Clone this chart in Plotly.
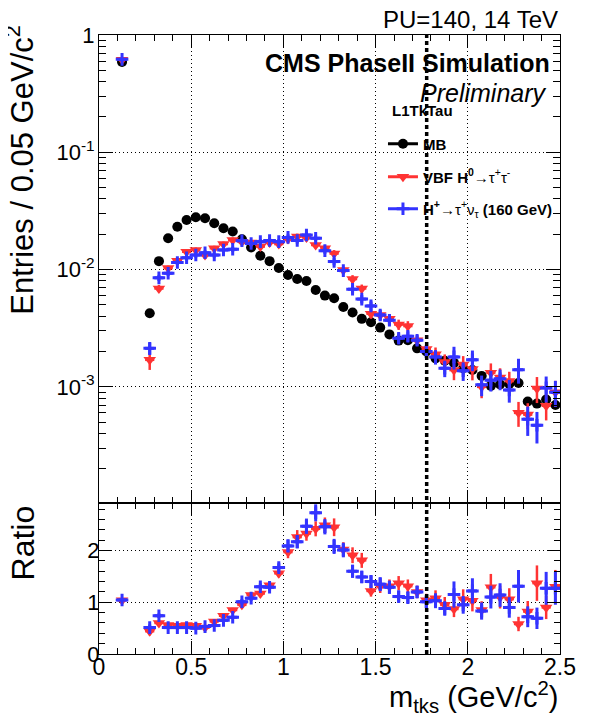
import numpy as np
import plotly.graph_objects as go
from plotly.subplots import make_subplots

# binning of the histogram (GeV/c^2)
BIN_WIDTH = 0.05
N_BINS = 50
M_TAU = 1.777

# normalised entries per bin (None = empty bin)
mb = [None, None, 0.59, None, None,
      0.00424, 0.0118, 0.0185, 0.0232, 0.0265, 0.0279, 0.0274, 0.0248, 0.0225, 0.0211,
      0.0181, 0.0154, 0.0131, 0.0118, 0.0103, 0.0090, 0.0083, 0.0080, 0.0067, 0.0060,
      0.0057, 0.0048, 0.0043, 0.0038, 0.00355, 0.0032, 0.0028, 0.00248, 0.0025, 0.00213,
      0.0020, 0.00175, 0.00167, 0.0016, 0.00144, 0.00139, 0.00124, 0.00102, 0.00105, 0.00106,
      0.00108, 0.00075, 0.00072, 0.00078, 0.0007]

vbf = [None, None, 0.615, None, None,
       0.0017, 0.0069, 0.0103, 0.0119, 0.0142, 0.0147, 0.0133, 0.0152, 0.0165, 0.0179,
       0.0173, 0.0170, 0.0157, 0.0170, 0.0165, 0.0182, 0.0191, 0.0188, 0.0162, 0.0152,
       0.0137, 0.0099, 0.0083, 0.0069, 0.0042, 0.0041, 0.0038, 0.0034, 0.0033, 0.0025,
       0.0021, 0.0019, 0.00163, 0.00139, 0.00155, 0.00142, 0.00100, 0.00132, 0.0012, 0.00112,
       0.00060, 0.00058, 0.00097, 0.00069, 0.00090]

hpm = [None, None, 0.62, None, None,
       0.00213, 0.0085, 0.0093, 0.0115, 0.0126, 0.0133, 0.0139, 0.0133, 0.0147, 0.0149,
       0.0176, 0.0167, 0.0173, 0.0177, 0.0173, 0.0188, 0.0177, 0.0197, 0.0185, 0.0145,
       0.0117, 0.0098, 0.0068, 0.0056, 0.0049, 0.0041, 0.0037, 0.0026, 0.0027, 0.0025,
       0.0020, 0.0018, 0.00144, 0.0018, 0.00137, 0.0017, 0.00104, 0.00114, 0.00117, 0.00094,
       0.0014, 0.00053, 0.00047, 0.00098, 0.00090]

# ratio to MB
ratio_vbf = [None, None, 1.04, None, None,
             0.44, 0.60, 0.56, 0.545, 0.56, 0.545, 0.51, 0.63, 0.74, 0.85,
             0.95, 1.14, 1.17, 1.33, 1.56, 1.97, 2.26, 2.33, 2.42, 2.49,
             2.45, 2.02, 1.91, 1.81, 1.22, 1.31, 1.31, 1.37, 1.31, 1.20,
             1.04, 1.08, 0.95, 0.87, 1.06, 1.03, 0.85, 1.29, 1.10, 1.06,
             0.58, 0.82, 1.37, 0.90, 1.30]

ratio_hpm = [None, None, 1.045, None, None,
             0.51, 0.74, 0.51, 0.51, 0.51, 0.50, 0.53, 0.55, 0.65, 0.71,
             1.01, 1.08, 1.30, 1.29, 1.67, 2.09, 2.17, 2.47, 2.73, 2.46,
             2.08, 2.01, 1.60, 1.49, 1.40, 1.35, 1.29, 1.11, 1.09, 1.20,
             1.01, 1.03, 0.88, 1.15, 0.95, 1.22, 0.83, 1.10, 1.14, 0.90,
             1.31, 0.72, 0.69, 1.27, 1.27]

# relative statistical uncertainties
rel_mb = [None, None, 0.01, None, None,
          0.04, 0.02, 0.02, 0.02, 0.02, 0.02, 0.02, 0.02, 0.02, 0.02,
          0.02, 0.02, 0.02, 0.02, 0.02, 0.02, 0.02, 0.02, 0.03, 0.03,
          0.03, 0.03, 0.03, 0.03, 0.03, 0.03, 0.04, 0.04, 0.04, 0.04,
          0.04, 0.04, 0.04, 0.04, 0.05, 0.05, 0.05, 0.05, 0.05, 0.05,
          0.05, 0.06, 0.06, 0.06, 0.06]

rel_vbf = [None, None, 0.02, None, None,
           0.18, 0.07, 0.05, 0.05, 0.05, 0.05, 0.05, 0.05, 0.05, 0.05,
           0.05, 0.05, 0.05, 0.05, 0.05, 0.06, 0.06, 0.06, 0.06, 0.06,
           0.07, 0.07, 0.08, 0.08, 0.09, 0.10, 0.10, 0.10, 0.10, 0.10,
           0.12, 0.14, 0.16, 0.18, 0.18, 0.20, 0.20, 0.20, 0.20, 0.20,
           0.24, 0.25, 0.25, 0.25, 0.25]

rel_hpm = [None, None, 0.02, None, None,
           0.12, 0.06, 0.05, 0.05, 0.05, 0.05, 0.05, 0.05, 0.05, 0.05,
           0.05, 0.05, 0.05, 0.05, 0.05, 0.06, 0.06, 0.06, 0.06, 0.06,
           0.07, 0.07, 0.08, 0.08, 0.09, 0.10, 0.10, 0.10, 0.10, 0.10,
           0.12, 0.14, 0.16, 0.22, 0.18, 0.20, 0.20, 0.20, 0.20, 0.22,
           0.24, 0.28, 0.30, 0.25, 0.25]

# axis labels
log_tickvals = [1, 0.1, 0.01, 0.001]
log_ticktext = ["1", "10<sup>-1</sup>", "10<sup>-2</sup>", "10<sup>-3</sup>"]
x_tickvals = [0, 0.5, 1, 1.5, 2, 2.5]
x_ticktext = ["0", "0.5", "1", "1.5", "2", "2.5"]

x = np.arange(N_BINS) * BIN_WIDTH + BIN_WIDTH / 2
xerr = np.full(N_BINS, BIN_WIDTH / 2)

def arr(v):
    return np.array(v, dtype=float)

RED = "#ff3333"
BLUE = "#3333ff"
FONT = "Liberation Sans"

fig = make_subplots(rows=2, cols=1, shared_xaxes=True, vertical_spacing=0)

series = [
    (mb, rel_mb, "black", dict(symbol="circle", size=10, color="black"), 2),
    (vbf, rel_vbf, RED, dict(symbol="triangle-down", size=11, color=RED), 2.5),
    (hpm, rel_hpm, BLUE, dict(symbol="cross-thin", size=9, line=dict(color=BLUE, width=3)), 3),
]
for vals, rel, col, mk, th in series:
    v = arr(vals)
    fig.add_trace(go.Scatter(
        x=x, y=v, mode="markers", marker=mk, showlegend=False,
        error_x=dict(type="data", array=xerr, color=col, thickness=th, width=0),
        error_y=dict(type="data", array=v * arr(rel), color=col, thickness=th, width=0),
    ), row=1, col=1)

for vals, rel, col, mk, th in [(ratio_vbf, rel_vbf, RED, series[1][3], 2.5),
                               (ratio_hpm, rel_hpm, BLUE, series[2][3], 3)]:
    v = arr(vals)
    fig.add_trace(go.Scatter(
        x=x, y=v, mode="markers", marker=mk, showlegend=False,
        error_x=dict(type="data", array=xerr, color=col, thickness=th, width=0),
        error_y=dict(type="data", array=v * arr(rel), color=col, thickness=th, width=0),
    ), row=2, col=1)

# legend proxies (line + marker, ROOT style)
names = ["<b>MB</b>",
         "<b>VBF H<sup>0</sup></b>→τ<sup>+</sup>τ<sup>-</sup>",
         "<b>H<sup>+</sup></b>→τ<sup>+</sup>ν<sub>τ</sub><b> (160 GeV)</b>"]
for i, (s, nm) in enumerate(zip(series, names)):
    fig.add_trace(go.Scatter(
        x=[None], y=[None], mode="lines+markers", name=nm,
        line=dict(color=s[2], width=3), marker=s[3],
        legend="legend" if i == 0 else f"legend{i + 1}",
    ), row=1, col=1)

# tau mass line
fig.add_shape(type="line", xref="x", yref="paper", x0=M_TAU, x1=M_TAU, y0=0, y1=1,
              line=dict(color="black", width=3.5, dash="4px,3px"))

axis_common = dict(showline=True, linecolor="black", linewidth=1, mirror="allticks",
                   ticks="inside", tickcolor="black", zeroline=False, automargin=False,
                   showgrid=True, gridcolor="black", gridwidth=1, griddash="1px,3px")

fig.update_xaxes(range=[0, 2.5], tickvals=x_tickvals, ticktext=x_ticktext, ticklen=13,
                 minor=dict(dtick=0.1, ticks="inside", ticklen=6, tickcolor="black", showgrid=False),
                 tickfont=dict(family=FONT, size=23, color="black"), ticklabelstandoff=-8,
                 **axis_common)
fig.update_xaxes(showticklabels=False, row=1, col=1)

log_minor = [m * 10.0 ** e for e in range(-4, 0) for m in range(2, 10)]
fig.update_yaxes(type="log", range=[-3.99, 0], tickvals=log_tickvals, ticktext=log_ticktext,
                 ticklen=14, ticklabelstandoff=-1,
                 minor=dict(tickmode="array", tickvals=log_minor, ticks="inside", ticklen=7,
                            tickcolor="black", showgrid=False),
                 tickfont=dict(family=FONT, size=22, color="black"),
                 row=1, col=1, **axis_common)
fig.update_yaxes(range=[0, 2.92], tickvals=[0, 1, 2], ticklen=13, ticklabelstandoff=-6,
                 minor=dict(dtick=0.2, ticks="inside", ticklen=6, tickcolor="black", showgrid=False),
                 tickfont=dict(family=FONT, size=22, color="black"),
                 row=2, col=1, **axis_common)
fig.update_layout(yaxis=dict(domain=[0.244, 1]), yaxis2=dict(domain=[0, 0.244]))

def py(px):
    return (654 - px) / 619

legend_style = dict(xanchor="left", yanchor="middle", bgcolor="rgba(0,0,0,0)",
                    font=dict(family=FONT, size=15, color="black"), borderwidth=0)

# page body adds an 8px offset, so the figure is 8px smaller than the window
fig.update_layout(
    width=588, height=714,
    margin=dict(l=91, r=36, t=27, b=68, autoexpand=False),
    plot_bgcolor="white", paper_bgcolor="white",
    font=dict(family=FONT, color="black"),
    legend=dict(x=0.616, y=py(144), **legend_style),
    legend2=dict(x=0.616, y=py(177), **legend_style),
    legend3=dict(x=0.616, y=py(209), **legend_style),
    annotations=[
        dict(text="PU=140, 14 TeV", x=1, y=py(19), xref="paper", yref="paper",
             xanchor="right", yanchor="middle", showarrow=False,
             font=dict(family=FONT, size=24)),
        dict(text="<b>CMS PhaseII Simulation</b>", x=0.982, y=py(63), xref="paper", yref="paper",
             xanchor="right", yanchor="middle", showarrow=False,
             font=dict(family=FONT, size=25)),
        dict(text="<i>Preliminary</i>", x=0.976, y=py(93), xref="paper", yref="paper",
             xanchor="right", yanchor="middle", showarrow=False,
             font=dict(family=FONT, size=25)),
        dict(text="<b>L1TkTau</b>", x=0.631, y=py(111), xref="paper", yref="paper",
             xanchor="left", yanchor="middle", showarrow=False,
             font=dict(family=FONT, size=15)),
        dict(text="Entries / 0.05 GeV/c<sup>2</sup>", x=-0.171, y=py(24), xref="paper", yref="paper",
             xanchor="center", yanchor="top", textangle=-90, showarrow=False,
             font=dict(family=FONT, size=31)),
        dict(text="Ratio", x=-0.165, y=py(503), xref="paper", yref="paper",
             xanchor="center", yanchor="top", textangle=-90, showarrow=False,
             font=dict(family=FONT, size=32)),
        dict(text="m<sub>tks</sub> (GeV/c<sup>2</sup>)", x=1, y=py(697), xref="paper", yref="paper",
             xanchor="right", yanchor="middle", showarrow=False,
             font=dict(family=FONT, size=29)),
    ],
)

fig.write_html("out.html")
